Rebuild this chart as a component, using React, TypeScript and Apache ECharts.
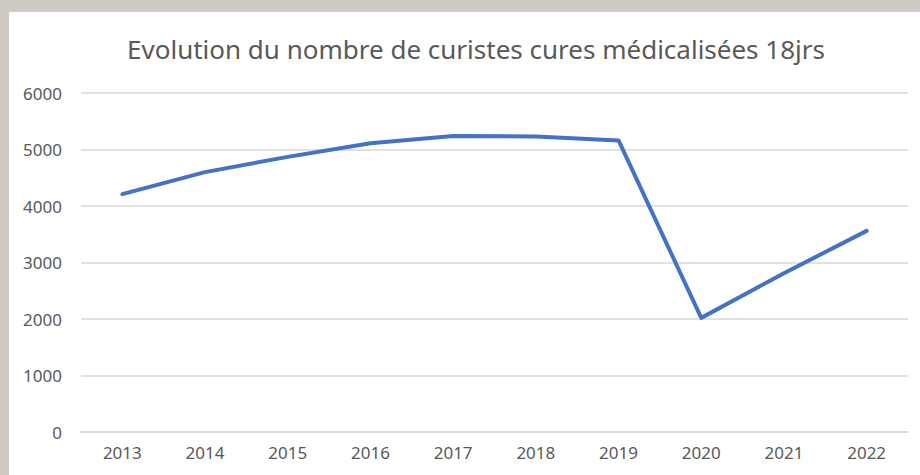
import React, { useEffect, useRef } from "react";
import * as echarts from "echarts";

const years = ["2013", "2014", "2015", "2016", "2017", "2018", "2019", "2020", "2021", "2022"];
const curistes = [4210, 4600, 4870, 5110, 5240, 5230, 5160, 2020, 2810, 3560];
const yTicks = { min: 0, max: 6000, interval: 1000 };
const titleText = "Evolution du nombre de curistes cures médicalisées 18jrs";

export default function App() {
  const ref = useRef<HTMLDivElement>(null);
  useEffect(() => {
    document.body.style.margin = "0";
    const chart = echarts.init(ref.current!, null, { renderer: "svg" });
    chart.setOption({
      animation: false,
      backgroundColor: "#cfcbc4",
      graphic: [
        {
          type: "rect",
          z: -10,
          shape: { x: 9, y: 12, width: 911, height: 463 },
          style: { fill: "#ffffff" },
        },
      ],
      title: {
        text: titleText,
        left: 471,
        top: 31,
        textAlign: "center",
        textStyle: {
          fontFamily: "Noto Sans",
          fontSize: 26,
          fontWeight: "normal",
          color: "#595959",
        },
      },
      grid: { left: 81, right: 12, top: 93, bottom: 43 },
      xAxis: {
        type: "category",
        data: years,
        boundaryGap: true,
        axisLine: { show: true, lineStyle: { color: "#d9d9d9", width: 1.5 } },
        axisTick: { show: false },
        axisLabel: { color: "#595959", fontFamily: "Noto Sans", fontSize: 17, margin: 12 },
      },
      yAxis: {
        type: "value",
        min: yTicks.min,
        max: yTicks.max,
        interval: yTicks.interval,
        axisLine: { show: false },
        axisTick: { show: false },
        splitLine: { lineStyle: { color: "#d9d9d9", width: 1.5 } },
        axisLabel: {
          color: "#595959",
          fontFamily: "Noto Sans",
          fontSize: 17,
          margin: 19,
          formatter: (v: number) => String(v),
        },
      },
      series: [
        {
          type: "line",
          data: curistes,
          symbol: "none",
          lineStyle: { color: "#4472c4", width: 4, cap: "round", join: "round" },
        },
      ],
    });
    return () => chart.dispose();
  }, []);
  return <div ref={ref} style={{ width: 920, height: 475 }} />;
}
